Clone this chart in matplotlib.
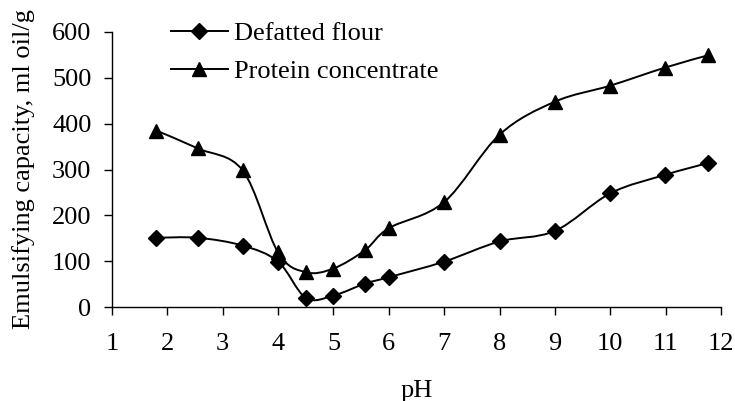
import numpy as np
import matplotlib
matplotlib.use("Agg")
import matplotlib.pyplot as plt
from matplotlib.path import Path
from matplotlib.patches import PathPatch
from matplotlib.lines import Line2D

ph = [1.8, 2.55, 3.36, 4.0, 4.5, 5.0, 5.57, 6.0, 7.0, 8.0, 9.0, 10.0, 10.98, 11.76]
defatted_flour = [151, 151, 134, 99, 20, 25, 51, 65, 99, 143, 166, 248, 288, 314]
protein_conc = [385, 346, 298, 119, 76, 84, 124, 172, 229, 376, 448, 483, 522, 549]
series_labels = ["Defatted flour", "Protein concentrate"]
xticks = list(range(1, 13))
yticks = [0, 100, 200, 300, 400, 500, 600]

plt.rcParams['font.family'] = ['Liberation Serif', 'DejaVu Serif']
FS = 19

fig = plt.figure(figsize=(7.35, 4.01), dpi=100)
ax = fig.add_axes([112/735, 1-307/401, (721-112)/735, (307-32)/401])


def smooth_path(x, y):
    # Excel-style smoothed line drawn as cubic Bezier segments through data points
    x = np.asarray(x, float)
    y = np.asarray(y, float)
    n = len(x)
    verts = [(x[0], y[0])]
    codes = [Path.MOVETO]
    for i in range(n - 1):
        p0 = np.array([x[max(i-1, 0)], y[max(i-1, 0)]])
        p1 = np.array([x[i], y[i]])
        p2 = np.array([x[i+1], y[i+1]])
        p3 = np.array([x[min(i+2, n-1)], y[min(i+2, n-1)]])
        c1 = p1 + (p2 - p0) / 6.0
        c2 = p2 - (p3 - p1) / 6.0
        verts += [tuple(c1), tuple(c2), tuple(p2)]
        codes += [Path.CURVE4] * 3
    return Path(verts, codes)


for vals, mk, ms in [(defatted_flour, 'D', 8), (protein_conc, '^', 10)]:
    ax.add_patch(PathPatch(smooth_path(ph, vals), facecolor='none',
                           edgecolor='black', lw=1.4, zorder=2))
    ax.plot(ph, vals, linestyle='none', marker=mk, ms=ms, color='black', zorder=3)

ax.set_xlim(1, 12)
ax.set_ylim(0, 600)
ax.set_xticks(xticks)
ax.set_yticks(yticks)
ax.spines['top'].set_visible(False)
ax.spines['right'].set_visible(False)
for s in ['left', 'bottom']:
    ax.spines[s].set_linewidth(1.0)
ax.tick_params(direction='out', length=5.8, width=1.0, labelsize=FS)
ax.tick_params(axis='x', pad=13)
ax.tick_params(axis='y', pad=9)
ax.set_xlabel('pH', fontsize=FS, labelpad=18)
ax.set_ylabel('Emulsifying capacity, ml oil/g', fontsize=FS, labelpad=12)

handles = [Line2D([], [], color='black', lw=1.4, marker='D', ms=8),
           Line2D([], [], color='black', lw=1.4, marker='^', ms=10)]
fig.legend(handles, series_labels, loc='upper left',
           bbox_to_anchor=(171/735, 1-22/401), frameon=False, fontsize=FS,
           handlelength=2.15, handletextpad=0.25, labelspacing=0.55,
           borderpad=0, borderaxespad=0)

fig.savefig('out.png', dpi=100)
